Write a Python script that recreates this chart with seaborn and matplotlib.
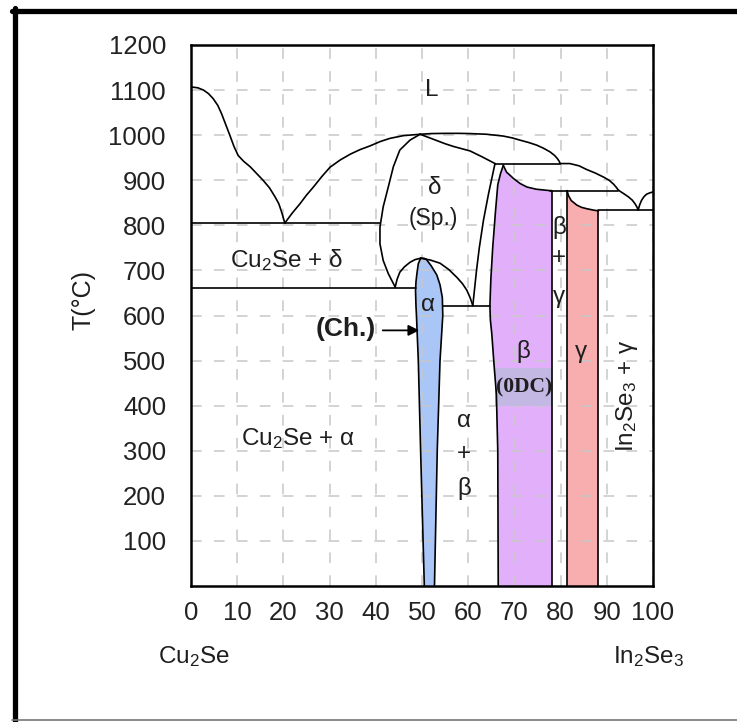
import matplotlib
matplotlib.use("Agg")
import matplotlib.pyplot as plt
import seaborn as sns
import pandas as pd
from matplotlib.lines import Line2D

# ---- phase boundaries, (mol% In2Se3, T in deg C) ----
liq_cu2se = [(0, 1107), (1.5, 1105), (2.7, 1100), (3.8, 1092), (4.8, 1081), (5.8, 1066),
             (6.6, 1048), (7.5, 1024), (8.4, 1000), (9.3, 975), (10.2, 955), (11.4, 942),
             (12.8, 930), (14.2, 915), (15.6, 900), (17.0, 883), (18.2, 863), (19.0, 848),
             (19.6, 830), (20.0, 816), (20.3, 805)]
liq_delta_l = [(20.3, 805), (21.9, 827), (23.6, 848), (25.0, 867), (26.5, 885), (28.3, 908),
               (30.1, 929), (32.3, 945), (34.5, 958), (36.6, 968), (38.7, 976), (41.0, 986),
               (43.1, 993), (46.0, 999), (49.6, 1002)]
liq_delta_r = [(49.6, 1002), (52.0, 1003.5), (55.0, 1004), (58.0, 1004), (60.4, 1003.5),
               (64.0, 1002), (67.6, 998), (69.5, 994), (71.2, 989), (73.0, 984), (74.8, 978),
               (76.3, 971), (77.7, 963), (78.7, 955), (79.3, 948), (79.7, 942), (79.9, 937)]
liq_beta = [(79.9, 937), (82.0, 937), (84.0, 932), (85.6, 924), (87.5, 916), (89.3, 907),
            (90.5, 900), (91.4, 892), (92.0, 885), (92.5, 878)]
liq_gamma = [(92.5, 878), (93.7, 870), (94.7, 863), (95.5, 856), (96.1, 848), (96.5, 841),
             (96.8, 834)]
liq_in2se3 = [(96.8, 834), (97.1, 845), (97.5, 855), (98.0, 863), (98.6, 869), (99.3, 872),
              (100, 874)]

delta_left = [(49.6, 1002), (47.4, 989), (45.2, 967), (43.8, 930), (42.7, 885), (41.6, 841),
              (40.9, 796), (40.9, 759), (41.6, 722), (42.7, 693), (44.2, 663)]
delta_right = [(49.6, 1002), (51.4, 995), (53.2, 988), (55.0, 981), (56.8, 975), (58.6, 970),
               (60.4, 965), (61.8, 958), (63.0, 952), (64.5, 944), (65.8, 937)]
delta_beta = [(65.8, 937), (64.4, 870), (63.3, 811), (62.4, 750), (61.8, 700), (61.0, 622)]
delta_low_l = [(44.2, 663), (44.6, 680), (45.2, 696), (46.2, 708), (47.4, 718), (48.5, 724),
               (49.7, 727)]
delta_low_r = [(49.7, 727), (51.8, 723), (53.9, 716), (55.8, 702), (57.6, 684), (58.8, 670),
               (59.7, 656), (60.4, 640), (61.0, 622)]

alpha_left = [(49.7, 727), (49.2, 715), (48.9, 693), (48.7, 675), (48.6, 655), (48.7, 620),
              (48.8, 600), (49.2, 500), (49.7, 300), (50.5, 0)]
alpha_right = [(49.7, 727), (50.4, 727), (50.9, 725), (52.0, 710), (53.2, 690), (53.9, 668),
               (54.4, 640), (54.5, 600), (54.2, 550), (53.9, 500), (53.3, 300), (52.7, 0)]
beta_left = [(67.6, 933), (67.0, 915), (66.4, 890), (65.9, 830), (65.3, 750), (64.9, 680),
             (64.7, 622), (64.8, 590), (65.1, 560), (65.6, 490), (66.1, 425), (66.4, 300),
             (66.5, 0)]
beta_top = [(67.6, 933), (68.3, 918), (69.8, 904), (71.2, 893), (72.7, 885), (74.8, 880),
            (77.7, 877), (78.1, 877)]
beta_right = [(78.1, 877), (78.1, 0)]
gamma_top = [(81.4, 877), (81.7, 866), (82.3, 855), (83.5, 845), (84.5, 840), (85.6, 837),
             (87.0, 834), (88.2, 832)]
gamma_left = [(81.4, 877), (81.4, 0)]
gamma_right = [(88.2, 832), (88.2, 0)]

# invariant lines
iso_805 = [(0, 805), (40.9, 805)]
iso_662 = [(0, 662), (48.6, 662)]
iso_622 = [(54.5, 622), (64.7, 622)]
iso_937 = [(65.8, 937), (79.9, 937)]
iso_877 = [(77.7, 877), (92.5, 877)]
iso_833 = [(88.2, 833), (100, 833)]

curves = {
    "liq_cu2se": liq_cu2se, "liq_delta_l": liq_delta_l, "liq_delta_r": liq_delta_r,
    "liq_beta": liq_beta, "liq_gamma": liq_gamma, "liq_in2se3": liq_in2se3,
    "delta_left": delta_left, "delta_right": delta_right, "delta_beta": delta_beta,
    "delta_low_l": delta_low_l, "delta_low_r": delta_low_r,
    "alpha_left": alpha_left, "alpha_right": alpha_right,
    "beta_left": beta_left, "beta_top": beta_top, "beta_right": beta_right,
    "gamma_top": gamma_top, "gamma_left": gamma_left, "gamma_right": gamma_right,
    "iso_805": iso_805, "iso_662": iso_662, "iso_622": iso_622,
    "iso_937": iso_937, "iso_877": iso_877, "iso_833": iso_833,
}

rows = []
for name, pts in curves.items():
    for i, (x, t) in enumerate(pts):
        rows.append({"curve": name, "order": i, "x": x, "T": t})
df = pd.DataFrame(rows)

x_ticks = list(range(0, 101, 10))
y_ticks = list(range(100, 1201, 100))

# ---- style ----
sns.set_style("white")
plt.rcParams["font.family"] = ["Liberation Sans", "DejaVu Sans"]
plt.rcParams["mathtext.fontset"] = "custom"
plt.rcParams["mathtext.rm"] = "Liberation Sans"
plt.rcParams["mathtext.default"] = "regular"

fig = plt.figure(figsize=(7.37, 7.22), dpi=100)
ax = fig.add_axes([191 / 737, 136 / 722, 462 / 737, 541 / 722])

# phase fields
def fill(pts, color, z=0.3):
    xs, ts = zip(*pts)
    ax.fill(xs, ts, color=color, lw=0, zorder=z)

fill(alpha_left + alpha_right[::-1], "#a9c6f6")
fill(beta_top + beta_right + beta_left[::-1], "#e2b0fa")
fill(gamma_top + [(88.2, 0), (81.4, 0)], "#f8aeae")
ax.fill_between([65.9, 78.1], 400, 484, color="#c3b8e4", lw=0, zorder=0.8)

sns.lineplot(data=df, x="x", y="T", units="curve", estimator=None, sort=False,
             color="black", linewidth=1.2, ax=ax, zorder=3, legend=False)

ax.set_xlim(0, 100)
ax.set_ylim(0, 1200)
ax.set_xticks(x_ticks)
ax.set_yticks(y_ticks)
ax.tick_params(length=0, labelsize=18.5, labelcolor="#222222")
ax.tick_params(axis="y", pad=18)
ax.tick_params(axis="x", pad=11)
ax.set_xlabel("")
ax.set_ylabel("")
ax.grid(True, linestyle=(0, (7, 8)), color="#c8c8c8", linewidth=1.1, zorder=0.5)
for s in ax.spines.values():
    s.set_color("black")
    s.set_linewidth(1.8)
    s.set_zorder(4)

# ---- labels ----
tc = "#1e1e1e"
fs = 17.5
ax.text(52.2, 1100, "L", fontsize=fs, ha="center", va="center", color=tc)
ax.text(52.8, 882, "δ", fontsize=fs, ha="center", va="center", color=tc)
ax.text(52.4, 815, "(Sp.)", fontsize=16.5, ha="center", va="center", color=tc)
ax.text(20.6, 722, "Cu$_2$Se + δ", fontsize=fs, ha="center", va="center", color=tc)
ax.text(23.1, 327, "Cu$_2$Se + α", fontsize=fs, ha="center", va="center", color=tc)
ax.text(51.3, 624, "α", fontsize=fs, ha="center", va="center", color=tc)
ax.text(33.6, 571, "(Ch.)", fontsize=19, fontweight="bold", ha="center", va="center", color=tc)
ax.annotate("", xy=(49.4, 567), xytext=(41.5, 567),
            arrowprops=dict(arrowstyle="-|>", color="black", lw=1.3,
                            mutation_scale=16, shrinkA=0, shrinkB=0))
for t, s in zip([367, 293, 216], ["α", "+", "β"]):
    ax.text(59.1, t, s, fontsize=fs, ha="center", va="center", color=tc)
ax.text(71.9, 520, "β", fontsize=fs, ha="center", va="center", color=tc)
ax.text(72.0, 441, "(0DC)", fontsize=15.5, fontweight="bold", family="Liberation Serif",
        ha="center", va="center", color=tc, zorder=5)
for t, s in zip([796, 727, 640], ["β", "+", "γ"]):
    ax.text(79.7, t, s, fontsize=fs, ha="center", va="center", color=tc)
ax.text(84.4, 518, "γ", fontsize=fs, ha="center", va="center", color=tc)
ax.text(94.4, 422, "In$_2$Se$_3$ + γ", fontsize=fs, rotation=90,
        ha="center", va="center", color=tc)

fig.text(83 / 737, 1 - 300 / 722, "T(°C)", fontsize=18, rotation=90,
         ha="center", va="center", color=tc)
fig.text(194 / 737, 1 - 663 / 722, "Cu$_2$Se", fontsize=fs, ha="center",
         va="baseline", color=tc)
fig.text(649 / 737, 1 - 663 / 722, "In$_2$Se$_3$", fontsize=fs, ha="center",
         va="baseline", color=tc)

# outer frame
fig.add_artist(Line2D([12 / 737, 1], [1 - 10.5 / 722] * 2, transform=fig.transFigure,
                      color="black", lw=3.8))
fig.add_artist(Line2D([14.5 / 737] * 2, [0, 1 - 8 / 722], transform=fig.transFigure,
                      color="black", lw=3.8))
fig.add_artist(Line2D([12 / 737, 1], [2 / 722] * 2, transform=fig.transFigure,
                      color="#777777", lw=1.2))

fig.savefig("out.png", dpi=100)
